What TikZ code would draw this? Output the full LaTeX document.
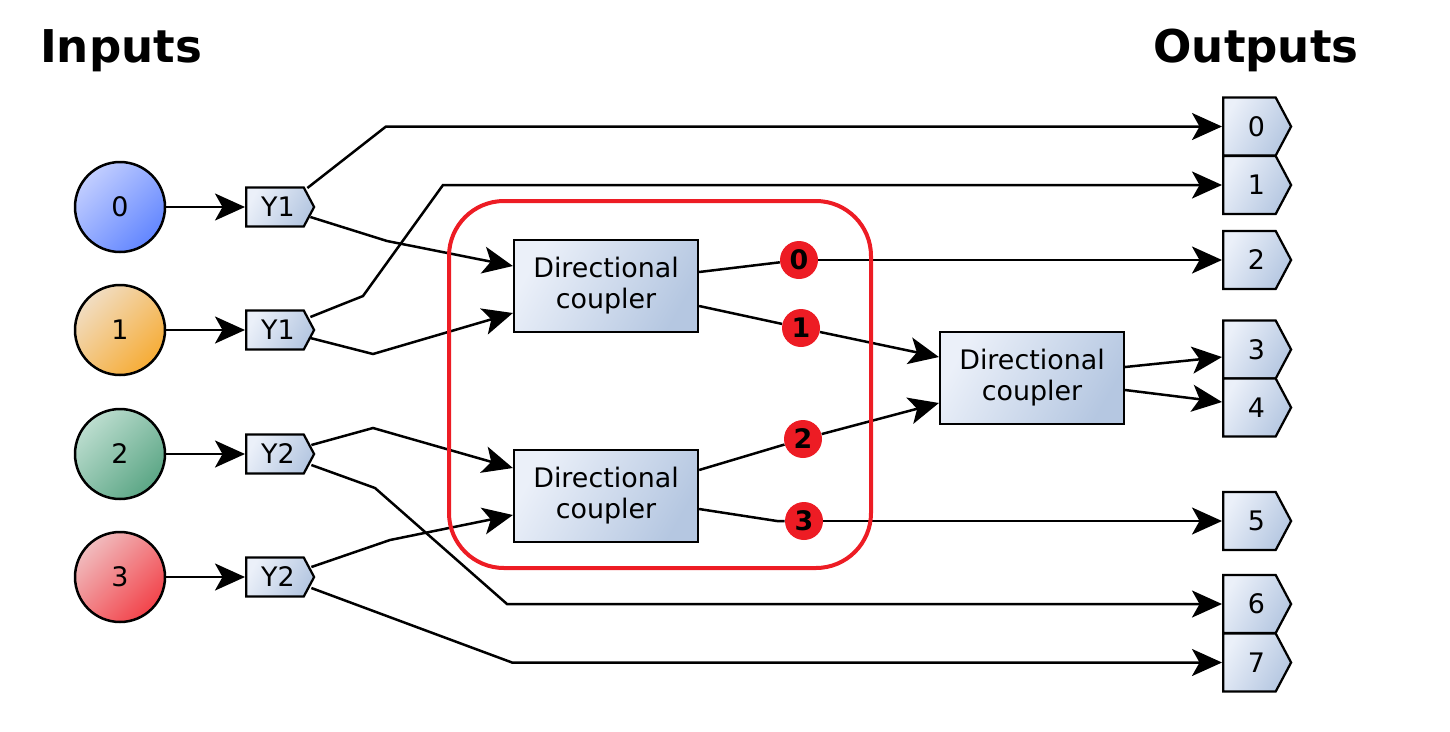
\documentclass[tikz,border=0pt]{standalone}
\usepackage{fontspec}
\setmainfont{DejaVu Sans}
\usepackage{tikz}
\usetikzlibrary{arrows.meta,shapes.symbols,calc}
\definecolor{boxlightc}{HTML}{EBF0F9}
\definecolor{boxdarkc}{HTML}{B5C7E1}
\definecolor{framec}{HTML}{ED1C24}
\definecolor{bluelc}{HTML}{C2CEFF}
\definecolor{bluedc}{HTML}{6286FF}
\definecolor{orangelc}{HTML}{F1DDC2}
\definecolor{orangedc}{HTML}{F6AC36}
\definecolor{greenlc}{HTML}{BCDDCF}
\definecolor{greendc}{HTML}{5BA685}
\definecolor{redlc}{HTML}{F1BCBE}
\definecolor{reddc}{HTML}{F2434A}
\tikzset{
  labelfont/.style={font=\fontsize{15.3}{17.6}\selectfont},
  titlenode/.style={anchor=base, font=\fontsize{25.7}{30}\selectfont\bfseries},
  sourcenode/.style={circle, draw=black, line width=0.05cm, minimum size=1.8cm,
    inner sep=0pt, labelfont, shading angle=45},
  ynode/.style={signal, signal to=east, signal pointer angle=124, anchor=west,
    draw=black, line width=0.045cm, minimum height=0.78cm, minimum width=1.36cm,
    inner xsep=2pt, labelfont, top color=boxlightc, bottom color=boxdarkc, shading angle=60},
  outnode/.style={ynode, minimum height=1.16cm},
  dcnode/.style={rectangle, draw=black, line width=0.045cm, minimum width=3.68cm,
    minimum height=1.84cm, align=center, labelfont,
    top color=boxlightc, bottom color=boxdarkc, shading angle=60},
  badgenode/.style={circle, fill=framec, minimum size=0.76cm, inner sep=0pt,
    font=\fontsize{15.3}{17.6}\selectfont\bfseries},
  plainedge/.style={draw=black, line width=0.05cm},
  arrowedge/.style={plainedge, -{Stealth[length=0.6cm, width=0.54cm, inset=0.15cm]}},
  frameedge/.style={draw=framec, line width=0.08cm, rounded corners=1.1cm},
}
\begin{document}
\begin{tikzpicture}[x=0.02cm, y=-0.02cm]
  \useasboundingbox (0,0) rectangle (1450,731);
  % headings
  \node[titlenode] (intitle) at (121,62) {Inputs};
  \node[titlenode] (outtitle) at (1256,62) {Outputs};
  % sources
  \node[sourcenode, top color=bluelc, bottom color=bluedc, shading angle=45] (s0) at (120,207) {0};
  \node[sourcenode, top color=orangelc, bottom color=orangedc, shading angle=45] (s1) at (120,330) {1};
  \node[sourcenode, top color=greenlc, bottom color=greendc, shading angle=45] (s2) at (120,454) {2};
  \node[sourcenode, top color=redlc, bottom color=reddc, shading angle=45] (s3) at (120,577) {3};
  % splitters
  \node[ynode] (y0) at (245,207) {\hspace{0.12cm}Y1};
  \node[ynode] (y1) at (245,330) {\hspace{0.12cm}Y1};
  \node[ynode] (y2) at (245,454) {\hspace{0.12cm}Y2};
  \node[ynode] (y3) at (245,577) {\hspace{0.12cm}Y2};
  % couplers
  \node[dcnode] (dcA) at (606,286) {Directional\\coupler};
  \node[dcnode] (dcB) at (606,496) {Directional\\coupler};
  \node[dcnode] (dcC) at (1032,378) {Directional\\coupler};
  % outputs
  \foreach \n/\y in {0/126.5,1/185,2/260,3/349.5,4/407.5,5/521,6/604,7/662.5}
    \node[outnode] (o\n) at (1222,\y) {\hspace{0.28cm}\n};
  % internal ports
  \node[badgenode] (b0) at (799,260) {0};
  \node[badgenode] (b1) at (801,328) {1};
  \node[badgenode] (b2) at (803,439) {2};
  \node[badgenode] (b3) at (804,521) {3};

  \foreach \i in {0,...,3}
    \draw[arrowedge] (s\i) -- (y\i.west);

  % splitter outputs
  \draw[arrowedge] ($(y0.east)+(-8,-19)$) -- (386,0 |- o0.west) -- (o0.west);
  \draw[arrowedge] ($(y0.east)+(-5,10)$) -- (387,241) -- ($(dcA.west)+(0,-20)$);
  \draw[arrowedge] ($(y1.east)+(-5,-13)$) -- (363,296) -- (443,0 |- o1.west) -- (o1.west);
  \draw[arrowedge] ($(y1.east)+(-5,8)$) -- (373,354) -- ($(dcA.west)+(0,27)$);
  \draw[arrowedge] ($(y2.east)+(-4,-9)$) -- (373,428) -- ($(dcB.west)+(0,-28)$);
  \draw[arrowedge] ($(y2.east)+(-4,11)$) -- (375,488) -- (507,0 |- o6.west) -- (o6.west);
  \draw[arrowedge] ($(y3.east)+(-4,-10)$) -- (390,540) -- ($(dcB.west)+(0,19)$);
  \draw[arrowedge] ($(y3.east)+(-4,11)$) -- (512,0 |- o7.west) -- (o7.west);

  % coupler outputs
  \draw[plainedge] ($(dcA.east)+(0,-14)$) -- (b0);
  \draw[arrowedge] (b0) -- (o2.west);
  \draw[arrowedge] ($(dcA.east)+(0,20)$) -- (b1) -- ($(dcC.west)+(0,-21)$);
  \draw[arrowedge] ($(dcB.east)+(0,-26)$) -- (b2) -- ($(dcC.west)+(0,25)$);
  \draw[plainedge] ($(dcB.east)+(0,13)$) -- (777,521) -- (b3);
  \draw[arrowedge] (b3) -- (o5.west);
  \draw[arrowedge] ($(dcC.east)+(0,-11)$) -- ($(o3.west)+(0,7.5)$);
  \draw[arrowedge] ($(dcC.east)+(0,12)$) -- ($(o4.west)+(0,-5.5)$);

  % coupler stage frame
  \draw[frameedge] (449,201) rectangle (871,568);
\end{tikzpicture}
\end{document}
